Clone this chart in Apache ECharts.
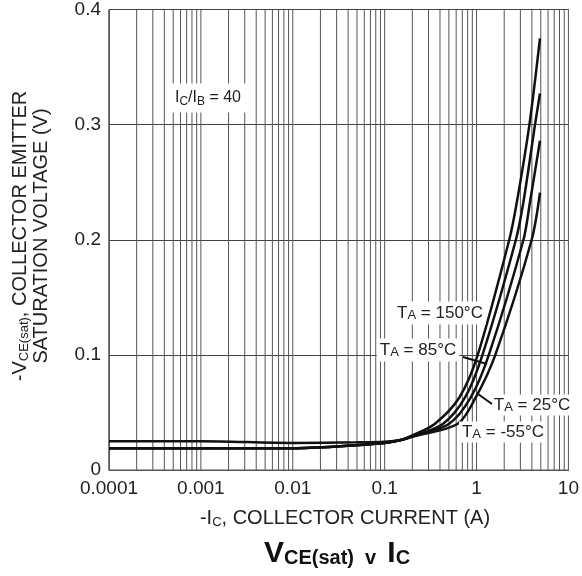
<!DOCTYPE html>
<html lang="en">
<head>
    <meta charset="UTF-8">
    <title>VCE(sat) v IC</title>
    <script src="https://cdn.jsdelivr.net/npm/echarts@6/dist/echarts.min.js"></script>
</head>
<style>
    *{
        margin: 0;
        padding: 0;
    }
    html , body{
        width: 100%;
        height: 100%;
        overflow: hidden;
        background: #fff;
    }
    .container{
        width: 582px;
        height: 576px;
    }
</style>
<body>
<div class="container"></div>
<script>
    // 曲线名称
    let curveNames=['TA = 150°C','TA = 85°C','TA = 25°C','TA = -55°C'];
    // 集电极电流 (A) 与饱和压降 (V)
    let current150=[0.0001,0.001,0.01,0.03,0.1,0.15,0.2,0.35,0.65,1.03,2.27,2.75,3.76,4.9];
    let volt150   =[0.019,0.019,0.019,0.0205,0.0235,0.026,0.030,0.040,0.063,0.100,0.200,0.233,0.300,0.375];
    let current85 =[0.0001,0.001,0.01,0.03,0.1,0.15,0.2,0.43,0.75,1.16,2.68,3.24,4.33,4.9];
    let volt85    =[0.019,0.019,0.019,0.0205,0.0235,0.026,0.029,0.040,0.063,0.100,0.200,0.233,0.300,0.327];
    let current25 =[0.0001,0.001,0.01,0.03,0.1,0.15,0.2,0.5,0.865,1.36,3.24,3.82,4.9];
    let volt25    =[0.019,0.019,0.019,0.0205,0.0235,0.026,0.029,0.040,0.063,0.100,0.200,0.233,0.286];
    let currentM55=[0.0001,0.001,0.01,0.05,0.1,0.15,0.2,0.62,0.98,1.6,3.98,4.9];
    let voltM55   =[0.025,0.025,0.0235,0.024,0.0245,0.026,0.029,0.040,0.063,0.100,0.200,0.241];
    // 坐标轴刻度
    let xTicks=[0.0001,0.001,0.01,0.1,1,10];
    let xTickLabels=['0.0001','0.001','0.01','0.1','1','10'];
    let yTicks=[0,0.1,0.2,0.3,0.4];

    let container=document.querySelector('.container');
    let mycharts=echarts.init(container);

    function zip(xs,ys){
        return xs.map((x,i)=>[x,ys[i]]);
    }
    let curves=[zip(current150,volt150),zip(current85,volt85),zip(current25,volt25),zip(currentM55,voltM55)];

    let series=[];
    // 对数网格竖线 1..9 x 10^n
    for(let d=-4;d<1;d++){
        for(let k=1;k<10;k++){
            let x=k*Math.pow(10,d);
            series.push({
                type:'line',
                data:[[x,yTicks[0]],[x,yTicks[yTicks.length-1]]],
                showSymbol:false,
                silent:true,
                z:1,
                lineStyle:{color:'#555',width:1}
            });
        }
    }
    curves.forEach((c,i)=>{
        series.push({
            name:curveNames[i],
            type:'line',
            data:c,
            smooth:0.3,
            showSymbol:false,
            z:3,
            lineStyle:{color:'#111',width:2.5}
        })
    });

    let txt='#222';
    let font='Liberation Sans, Arial, sans-serif';

    let option={
        backgroundColor:'#fff',
        animation:false,
        textStyle:{fontFamily:font},
        grid:{
            left:109,
            right:8,
            top:6,
            bottom:106,
            show:true,
            borderColor:'#555',
            borderWidth:1
        },
        xAxis:{
            type:'log',
            logBase:10,
            min:xTicks[0],
            max:xTicks[xTicks.length-1],
            axisLine:{lineStyle:{color:'#555'}},
            axisTick:{show:false},
            splitLine:{show:false},
            axisLabel:{
                fontSize:19,
                color:txt,
                margin:9,
                fontFamily:font,
                formatter:function (v) {
                    let idx=xTicks.findIndex(t=>Math.abs(Math.log10(t)-Math.log10(v))<1e-6);
                    return idx>=0 ? xTickLabels[idx] : '';
                }
            }
        },
        yAxis:{
            type:'value',
            min:yTicks[0],
            max:yTicks[yTicks.length-1],
            interval:0.1,
            axisLine:{show:true,lineStyle:{color:'#555'}},
            axisTick:{show:false},
            splitLine:{show:true,lineStyle:{color:'#444',width:1}},
            axisLabel:{
                fontSize:19,
                color:txt,
                margin:8,
                fontFamily:font
            }
        },
        graphic:[
            // y 轴名称
            {
                type:'text',
                x:31,
                y:236,
                rotation:Math.PI/2,
                style:{
                    text:'{m|-V}{s|CE(sat)}{m|, COLLECTOR EMITTER}\n{m|SATURATION VOLTAGE (V)}',
                    align:'center',
                    verticalAlign:'middle',
                    fill:txt,
                    rich:{
                        m:{fontSize:20,fontFamily:font,fill:txt,lineHeight:21,align:'center'},
                        s:{fontSize:13,fontFamily:font,fill:txt,lineHeight:21,padding:[7,0,0,0]}
                    }
                }
            },
            // x 轴名称
            {
                type:'text',
                x:345,
                y:518,
                style:{
                    text:'{m|-I}{s|C}{m|, COLLECTOR CURRENT (A)}',
                    align:'center',
                    verticalAlign:'middle',
                    fill:txt,
                    rich:{
                        m:{fontSize:20,fontFamily:font,fill:txt},
                        s:{fontSize:13,fontFamily:font,fill:txt,padding:[9,0,0,0]}
                    }
                }
            },
            // 标题
            {
                type:'text',
                x:337,
                y:554,
                style:{
                    text:'{m|V}{s|CE(sat)}{v|  v  }{m|I}{s|C}',
                    align:'center',
                    verticalAlign:'middle',
                    fill:'#111',
                    rich:{
                        m:{fontSize:30,fontWeight:'bold',fontFamily:font,fill:'#111'},
                        s:{fontSize:20,fontWeight:'bold',fontFamily:font,fill:'#111',padding:[9,0,0,0]},
                        v:{fontSize:20,fontWeight:'bold',fontFamily:font,fill:'#111',padding:[9,0,0,0]}
                    }
                }
            },
            // IC/IB = 40
            {
                type:'text',
                x:208,
                y:98,
                z:10,
                style:{
                    text:'{m|I}{s|C}{m|/I}{s|B}{m| = 40}',
                    align:'center',
                    verticalAlign:'middle',
                    backgroundColor:'#fff',
                    padding:[5,8,5,8],
                    fill:txt,
                    rich:{
                        m:{fontSize:16,fontFamily:font,fill:txt},
                        s:{fontSize:12,fontFamily:font,fill:txt,padding:[7,0,0,0]}
                    }
                }
            },
            // 温度标注
            {
                type:'text', x:440, y:313, z:10,
                style:{
                    text:'{m|T}{s|A}{m| = 150°C}', align:'center', verticalAlign:'middle',
                    backgroundColor:'#fff', padding:[3,3,3,3], fill:txt,
                    rich:{m:{fontSize:17,fontFamily:font,fill:txt},s:{fontSize:13,fontFamily:font,fill:txt,padding:[4,0,0,0]}}
                }
            },
            {
                type:'text', x:418, y:350, z:10,
                style:{
                    text:'{m|T}{s|A}{m| = 85°C}', align:'center', verticalAlign:'middle',
                    backgroundColor:'#fff', padding:[3,3,3,3], fill:txt,
                    rich:{m:{fontSize:17,fontFamily:font,fill:txt},s:{fontSize:13,fontFamily:font,fill:txt,padding:[4,0,0,0]}}
                }
            },
            {
                type:'text', x:532, y:405, z:10,
                style:{
                    text:'{m|T}{s|A}{m| = 25°C}', align:'center', verticalAlign:'middle',
                    backgroundColor:'#fff', padding:[2,3,2,3], fill:txt,
                    rich:{m:{fontSize:17,fontFamily:font,fill:txt},s:{fontSize:13,fontFamily:font,fill:txt,padding:[4,0,0,0]}}
                }
            },
            {
                type:'text', x:503, y:432, z:10,
                style:{
                    text:'{m|T}{s|A}{m| = -55°C}', align:'center', verticalAlign:'middle',
                    backgroundColor:'#fff', padding:[2,3,2,3], fill:txt,
                    rich:{m:{fontSize:17,fontFamily:font,fill:txt},s:{fontSize:13,fontFamily:font,fill:txt,padding:[4,0,0,0]}}
                }
            },
            // 引线
            {
                type:'line', z:11,
                shape:{x1:463,y1:357,x2:487,y2:364},
                style:{stroke:'#111',lineWidth:2}
            },
            {
                type:'line', z:11,
                shape:{x1:492,y1:404,x2:478,y2:394},
                style:{stroke:'#111',lineWidth:2}
            }
        ],
        series
    };
    mycharts.setOption(option);
</script>

</body>
</html>
